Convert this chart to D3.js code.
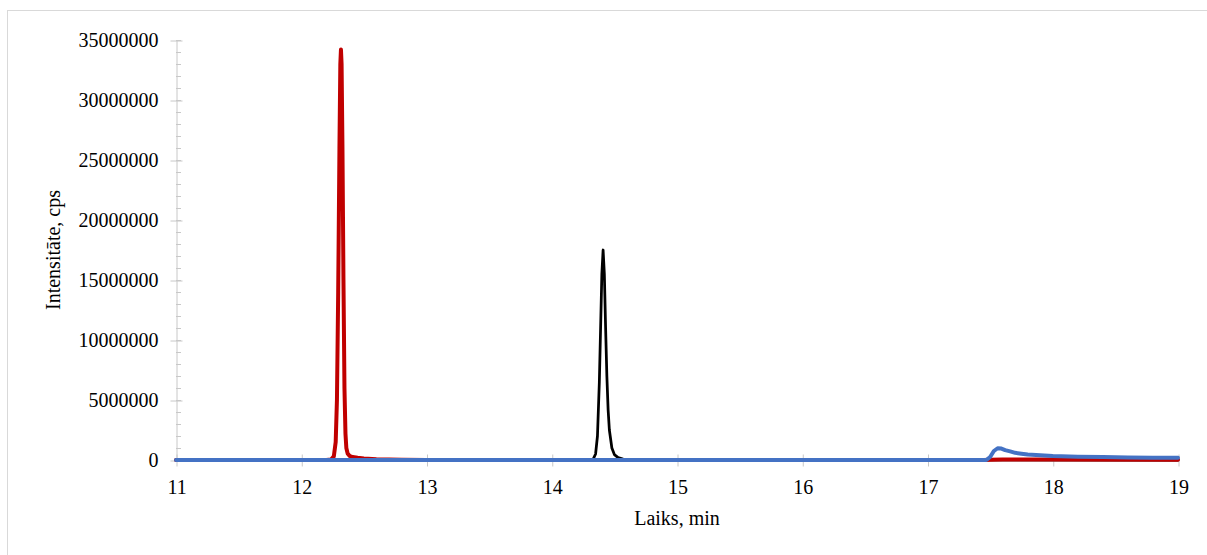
<!DOCTYPE html>
<html>
<head>
<meta charset="utf-8">
<script src="https://cdn.jsdelivr.net/npm/d3@7"></script>
<style>
  html, body { margin: 0; padding: 0; background: #fff; }
  svg { display: block; }
  text { font-family: "Liberation Serif", "Times New Roman", serif; fill: #000; }
</style>
</head>
<body>
<svg id="chart" width="1207" height="555"></svg>
<script>
// ---- data (time in min, intensity in cps) ----
const redTime  = [11, 12.0, 12.2, 12.24, 12.26, 12.275, 12.285, 12.295, 12.305, 12.312, 12.317, 12.322, 12.329, 12.337, 12.345, 12.353, 12.36, 12.37, 12.385, 12.41, 12.45, 12.5, 12.6, 12.8, 13.0, 14, 15, 16, 17, 17.45, 17.5, 17.6, 18, 19];
const redValue = [0, 0, 0, 50000, 300000, 1500000, 5000000, 14000000, 26000000, 33000000, 34200000, 33000000, 26000000, 15000000, 6000000, 2200000, 1000000, 550000, 350000, 250000, 180000, 120000, 70000, 30000, 10000, 0, 0, 0, 0, 0, 20000, 50000, 40000, 20000];

const blackTime  = [11, 14.30, 14.33, 14.35, 14.365, 14.38, 14.39, 14.40, 14.41, 14.42, 14.43, 14.44, 14.45, 14.46, 14.48, 14.50, 14.53, 14.57, 14.65, 15, 19];
const blackValue = [0, 0, 50000, 500000, 2000000, 6500000, 11000000, 15500000, 17500000, 15500000, 11000000, 7000000, 4200000, 2500000, 1000000, 450000, 200000, 80000, 20000, 0, 0];

const blueTime  = [11, 17.47, 17.50, 17.53, 17.56, 17.59, 17.62, 17.66, 17.70, 17.75, 17.80, 17.9, 18.0, 18.2, 18.4, 18.6, 18.8, 19.0];
const blueValue = [0, 0, 250000, 750000, 980000, 950000, 820000, 720000, 600000, 520000, 450000, 400000, 340000, 280000, 240000, 210000, 190000, 180000];

const xTicks = [11, 12, 13, 14, 15, 16, 17, 18, 19];
const yTicks = [0, 5000000, 10000000, 15000000, 20000000, 25000000, 30000000, 35000000];
const yMinorTicks = d3.range(0, 35000001, 1000000);
const xTitle = "Laiks, min";
const yTitle = "Intensitāte, cps";

// ---- layout ----
const svg = d3.select("#chart");
const mLeft = 176, mRight = 1178, mTop = 40, mBottom = 460;
const FS = 20;
const axisColor = "#c8c8c8";

svg.append("rect")
  .attr("x", 7.5).attr("y", 10.5)
  .attr("width", 1300).attr("height", 700)
  .attr("fill", "none").attr("stroke", "#d9d9d9").attr("stroke-width", 1);

const x = d3.scaleLinear().domain([11, 19]).range([mLeft, mRight]);
const y = d3.scaleLinear().domain([0, 35000000]).range([mBottom, mTop]);

// minor y ticks (inside)
svg.append("g").selectAll("line").data(yMinorTicks).join("line")
  .attr("x1", mLeft).attr("x2", mLeft + 5)
  .attr("y1", d => Math.round(y(d)) + 0.5).attr("y2", d => Math.round(y(d)) + 0.5)
  .attr("stroke", axisColor).attr("stroke-width", 1);

// y axis
const yAxis = svg.append("g").attr("transform", `translate(${mLeft + 0.5},0.5)`)
  .call(d3.axisLeft(y).tickValues(yTicks).tickFormat(d3.format("d")).tickSizeInner(6).tickSizeOuter(0).tickPadding(12));
yAxis.select(".domain").attr("stroke", axisColor);
yAxis.selectAll(".tick line").attr("x1", -6).attr("x2", 6).attr("stroke", axisColor);
yAxis.selectAll(".tick text")
  .style("font-family", '"Liberation Serif", "Times New Roman", serif')
  .style("font-size", FS + "px").attr("fill", "#000");

// x axis
const xAxis = svg.append("g").attr("transform", `translate(0.5,${mBottom + 0.5})`)
  .call(d3.axisBottom(x).tickValues(xTicks).tickFormat(d3.format("d")).tickSizeInner(6).tickSizeOuter(0).tickPadding(13));
xAxis.select(".domain").attr("stroke", axisColor);
xAxis.selectAll(".tick line").attr("y1", -6).attr("y2", 6).attr("stroke", axisColor);
xAxis.selectAll(".tick text")
  .style("font-family", '"Liberation Serif", "Times New Roman", serif')
  .style("font-size", FS + "px").attr("fill", "#000");

// titles
svg.append("text").attr("x", (mLeft + mRight) / 2).attr("y", 525)
  .attr("text-anchor", "middle").style("font-size", FS + "px").text(xTitle);
svg.append("text").attr("transform", `translate(60,${(mTop + mBottom) / 2}) rotate(-90)`)
  .attr("text-anchor", "middle").style("font-size", FS + "px").text(yTitle);

// series
const line = d3.line().x(d => x(d[0])).y(d => y(d[1]));
function draw(times, values, color, width) {
  svg.append("path")
    .datum(times.map((t, i) => [t, values[i]]))
    .attr("d", line)
    .attr("fill", "none").attr("stroke", color).attr("stroke-width", width)
    .attr("stroke-linejoin", "round").attr("stroke-linecap", "round");
}
draw(blackTime, blackValue, "#000000", 2.75);
draw(redTime, redValue, "#c00000", 4);
draw(blueTime, blueValue, "#4472c4", 4);
</script>
</body>
</html>
